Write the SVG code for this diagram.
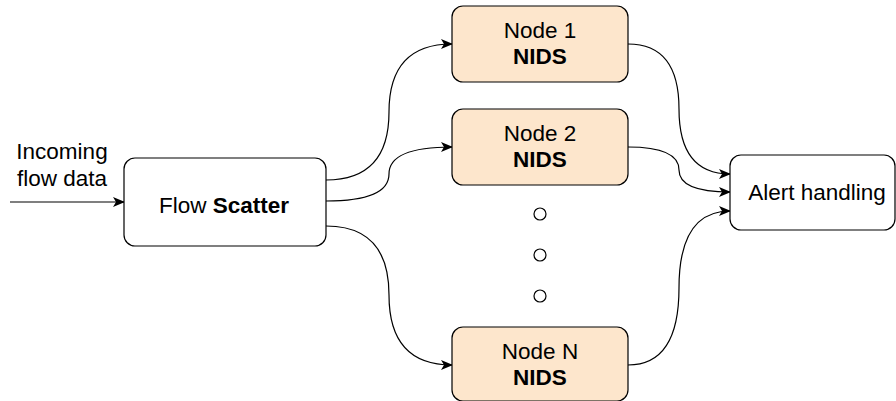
<svg xmlns="http://www.w3.org/2000/svg" width="896" height="401" viewBox="0 0 896 401">
<style>
  .box{fill:#ffffff;stroke:#000;stroke-width:1.2}
  .nids{fill:#fde6cc;stroke:#000;stroke-width:1.2}
  .t{font-family:"Liberation Sans",Arial,sans-serif;font-size:22.5px;fill:#000;text-anchor:middle}
  .b{font-weight:bold}
  .edge{fill:none;stroke:#000;stroke-width:1.2;marker-end:url(#arr)}
  .dot{fill:#fff;stroke:#000;stroke-width:1.2}
</style>
<defs>
  <marker id="arr" viewBox="0 0 12 10" refX="11" refY="5" markerWidth="12" markerHeight="10" markerUnits="userSpaceOnUse" orient="auto">
    <path d="M0,0 L12,5 L0,10 L3,5 Z" fill="#000"/>
  </marker>
</defs>
<g id="connectors">
  <path class="edge" d="M10,202 L124,202"/>
  <path class="edge" d="M326,180 Q389,180 389,112 Q389,44 452,44"/>
  <path class="edge" d="M326,201 Q389,201 389,174 Q389,147 452,147"/>
  <path class="edge" d="M326,226 Q389,226 389,295 Q389,365 452,365"/>
  <path class="edge" d="M628,44 Q679,44 679,109 Q679,174 730,174"/>
  <path class="edge" d="M628,147 Q679,147 679,170 Q679,192 730,192"/>
  <path class="edge" d="M628,365 Q679,365 679,288 Q679,211 730,211"/>
</g>
<g id="incoming-label">
  <text class="t" x="62" y="159">Incoming</text>
  <text class="t" x="62" y="186">flow data</text>
</g>
<g id="flow-scatter">
  <rect class="box" x="124" y="158" width="202" height="88" rx="11"/>
  <text class="t" x="224" y="213">Flow <tspan class="b">Scatter</tspan></text>
</g>
<g id="node1">
  <rect class="nids" x="452" y="6" width="176" height="76" rx="11"/>
  <text class="t" x="540" y="38">Node 1</text>
  <text class="t b" x="540" y="64">NIDS</text>
</g>
<g id="node2">
  <rect class="nids" x="452" y="109" width="176" height="76" rx="11"/>
  <text class="t" x="540" y="141">Node 2</text>
  <text class="t b" x="540" y="167">NIDS</text>
</g>
<g id="dots">
  <circle class="dot" cx="540" cy="214" r="6"/>
  <circle class="dot" cx="540" cy="255" r="6"/>
  <circle class="dot" cx="540" cy="296" r="6"/>
</g>
<g id="nodeN">
  <rect class="nids" x="452" y="327" width="176" height="74" rx="11"/>
  <text class="t" x="540" y="359">Node N</text>
  <text class="t b" x="540" y="385">NIDS</text>
</g>
<g id="alert-handling">
  <rect class="box" x="730" y="155" width="165" height="75" rx="11"/>
  <text class="t" x="817" y="200">Alert handling</text>
</g>
</svg>
